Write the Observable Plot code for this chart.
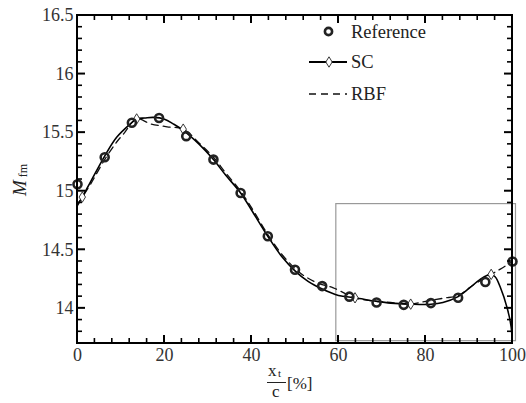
<!DOCTYPE html>
<html>
<head>
<meta charset="utf-8">
<script src="https://cdn.jsdelivr.net/npm/d3@7"></script>
<script src="https://cdn.jsdelivr.net/npm/@observablehq/plot@0.6"></script>
<style>
  html, body { margin: 0; padding: 0; background: #fff; }
</style>
</head>
<body>
<div id="chart"></div>
<script>
// Reference points
const refX = [0, 6.25, 12.5, 18.75, 25, 31.25, 37.5, 43.75, 50, 56.25, 62.5, 68.75, 75, 81.25, 87.5, 93.75, 100];
const refY = [15.06, 15.29, 15.585, 15.625, 15.47, 15.27, 14.985, 14.615, 14.33, 14.19, 14.10, 14.05, 14.03, 14.045, 14.09, 14.225, 14.40];

// SC curve
const scX = [0, 1.1, 3, 6.25, 9, 12, 13.6, 15.5, 17.5, 20, 22, 24.3, 28, 31.25, 34, 37.5, 40, 43.75, 47, 50, 53, 56.25, 60, 63.8, 68.75, 72, 76.6, 81.25, 84, 87.5, 90, 92.5, 94.9, 96, 97.2, 98.8, 99.7, 100];
const scY = [14.88, 14.95, 15.08, 15.30, 15.46, 15.57, 15.617, 15.625, 15.63, 15.615, 15.575, 15.52, 15.40, 15.27, 15.14, 14.985, 14.84, 14.615, 14.44, 14.32, 14.23, 14.165, 14.11, 14.09, 14.06, 14.045, 14.036, 14.035, 14.05, 14.10, 14.17, 14.245, 14.29, 14.27, 14.18, 14.0, 13.84, 13.65];

// RBF curve
const rbfX = [0, 1.1, 3, 6.25, 9, 10.6, 13.6, 16.8, 20.6, 24.3, 28, 31.25, 34, 37.5, 40, 43.75, 47, 50, 52, 55, 58.8, 63.8, 68.75, 72, 76.6, 80, 84.2, 87.5, 91, 95.1, 97.2, 100];
const rbfY = [14.89, 14.95, 15.06, 15.27, 15.42, 15.49, 15.617, 15.575, 15.55, 15.53, 15.41, 15.29, 15.16, 15.00, 14.86, 14.63, 14.46, 14.34, 14.28, 14.22, 14.175, 14.09, 14.06, 14.05, 14.036, 14.06, 14.087, 14.11, 14.20, 14.29, 14.335, 14.40];

// Sample points (diamonds)
const sampleX = [1.1, 13.6, 24.3, 63.8, 76.6, 95.1];
const sampleY = [14.95, 15.617, 15.53, 14.09, 14.036, 14.29];

// Zoom box
const boxX = [59.5, 100.8];
const boxY = [13.72, 14.89];

// Ticks
const xMajor = [0, 20, 40, 60, 80, 100];
const xMinor = [4, 8, 12, 16, 24, 28, 32, 36, 44, 48, 52, 56, 64, 68, 72, 76, 84, 88, 92, 96];
const yMajor = [14, 14.5, 15, 15.5, 16, 16.5];
const yMinor = [13.8, 13.9, 14.1, 14.2, 14.3, 14.4, 14.6, 14.7, 14.8, 14.9, 15.1, 15.2, 15.3, 15.4, 15.6, 15.7, 15.8, 15.9, 16.1, 16.2, 16.3, 16.4];

const ref = refX.map((x, i) => ({x, y: refY[i]}));
const sc = scX.map((x, i) => ({x, y: scY[i]}));
const rbf = rbfX.map((x, i) => ({x, y: rbfY[i]}));
const samples = sampleX.map((x, i) => ({x, y: sampleY[i]}));

const diamond = {
  draw(ctx) {
    const w = 3.2, h = 5.2;
    ctx.moveTo(0, -h); ctx.lineTo(w, 0); ctx.lineTo(0, h); ctx.lineTo(-w, 0); ctx.closePath();
  }
};

const FONT = "'Liberation Serif', serif";
const font = 18;

const plot = Plot.plot({
  width: 526,
  height: 403,
  marginLeft: 77,
  marginRight: 14,
  marginTop: 15,
  marginBottom: 60,
  style: {fontFamily: FONT, fontSize: font + "px"},
  x: {domain: [0, 100]},
  y: {domain: [13.7, 16.5]},
  marks: [
    Plot.rect([{x1: boxX[0], x2: boxX[1], y1: boxY[0], y2: boxY[1]}], {x1: "x1", x2: "x2", y1: "y1", y2: "y2", fill: "none", stroke: "#999", strokeWidth: 1.2}),
    Plot.line(rbf, {x: "x", y: "y", curve: "catmull-rom", stroke: "#111", strokeWidth: 1.3, strokeDasharray: "7,5", clip: true}),
    Plot.line(sc, {x: "x", y: "y", curve: "catmull-rom", stroke: "#000", strokeWidth: 1.6, clip: true}),
    Plot.dot(samples, {x: "x", y: "y", symbol: diamond, fill: "#fff", stroke: "#222", strokeWidth: 0.9}),
    Plot.dot(ref, {x: "x", y: "y", r: 4, stroke: "#222", strokeWidth: 2.6, fill: "none"}),
    Plot.axisX(xMajor, {anchor: "bottom", tickSize: 0, tickPadding: 5, label: null, fill: "#333", fontSize: font}),
    Plot.axisY(yMajor, {anchor: "left", tickSize: 0, tickPadding: 4, label: null, fill: "#333", fontSize: font, tickFormat: d => String(d)})
  ]
});

document.getElementById("chart").appendChild(plot);

const svg = d3.select(plot);
const sx = plot.scale("x"), sy = plot.scale("y");
const X = v => sx.apply(v), Y = v => sy.apply(v);
const [x0, x1] = sx.range, [y0, y1] = sy.range; // y0 bottom, y1 top

// frame and inward ticks drawn from the plot's own scales
const ax = svg.append("g");
ax.append("rect").attr("x", x0).attr("y", y1).attr("width", x1 - x0).attr("height", y0 - y1)
  .attr("fill", "none").attr("stroke", "#000").attr("stroke-width", 2);
function seg(xa, ya, xb, yb, sw) {
  ax.append("line").attr("x1", xa).attr("y1", ya).attr("x2", xb).attr("y2", yb)
    .attr("stroke", "#000").attr("stroke-width", sw);
}
function tickSetX(vals, len, sw) {
  vals.forEach(v => { seg(X(v), y0, X(v), y0 - len, sw); seg(X(v), y1, X(v), y1 + len, sw); });
}
function tickSetY(vals, len, sw) {
  vals.forEach(v => { seg(x0, Y(v), x0 + len, Y(v), sw); seg(x1, Y(v), x1 - len, Y(v), sw); });
}
tickSetX(xMinor, 5, 1.6); tickSetX(xMajor, 8, 2);
tickSetY(yMinor, 5, 1.6); tickSetY(yMajor, 8, 2);

// Labels & legend
const g = svg.append("g").attr("fill", "#222").attr("text-anchor", "start");

// x label: fraction x_t / c [%]
const xl = g.append("g").attr("font-size", 17);
xl.append("text").attr("x", 268).attr("y", 376).text("x")
  .append("tspan").attr("font-size", 11).attr("dx", 1.5).attr("dy", 1).text("t");
xl.append("line").attr("x1", 267).attr("x2", 286).attr("y1", 382.5).attr("y2", 382.5).attr("stroke", "#222").attr("stroke-width", 1);
xl.append("text").attr("x", 272).attr("y", 397).text("c");
xl.append("text").attr("x", 287).attr("y", 389).text("[%]");

// y label: M_fm
const yl = g.append("text").attr("transform", "translate(26,180) rotate(-90)").attr("text-anchor", "middle").attr("font-size", 19);
yl.append("tspan").attr("font-style", "italic").text("M");
yl.append("tspan").attr("font-size", 12).attr("dx", 3).attr("dy", 1).text("fm");

// legend
const lg = g.append("g").attr("font-size", 18.5);
lg.append("circle").attr("cx", 328.5).attr("cy", 31.5).attr("r", 3.6).attr("fill", "none").attr("stroke", "#222").attr("stroke-width", 2.6);
lg.append("text").attr("x", 351).attr("y", 37.5).text("Reference");
lg.append("line").attr("x1", 309).attr("x2", 347).attr("y1", 62).attr("y2", 62).attr("stroke", "#000").attr("stroke-width", 1.8);
lg.append("path").attr("d", "M329,56.8L332.2,62L329,67.2L325.8,62Z").attr("fill", "#fff").attr("stroke", "#222").attr("stroke-width", 0.9);
lg.append("text").attr("x", 351).attr("y", 68).text("SC");
lg.append("line").attr("x1", 309).attr("x2", 347).attr("y1", 94).attr("y2", 94).attr("stroke", "#111").attr("stroke-width", 1.3).attr("stroke-dasharray", "7,5");
lg.append("text").attr("x", 351).attr("y", 100).text("RBF");

svg.selectAll("text").attr("font-family", FONT).style("font-family", FONT);
</script>
</body>
</html>
